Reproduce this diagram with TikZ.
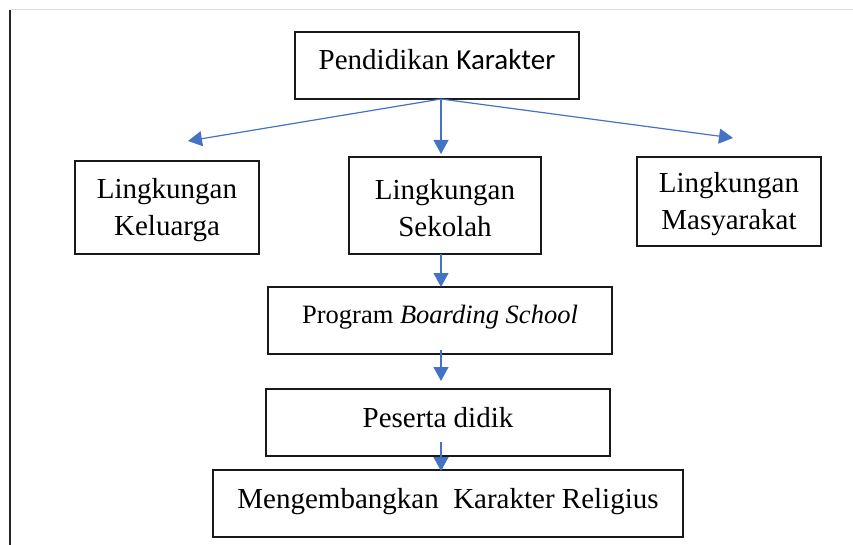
\documentclass[tikz,border=0pt]{standalone}
\usepackage{fontspec}
\setmainfont{Liberation Serif}
\newfontfamily\calfont{Carlito}
\usetikzlibrary{arrows.meta}
\definecolor{arrblue}{RGB}{68,114,196}
\newcommand{\firststrut}{\rule{0pt}{26pt}}
\tikzset{
  box/.style={draw=black!90, line width=1.1pt, rectangle, inner sep=0pt, align=center,
    font=\fontsize{29}{37}\selectfont},
  onebox/.style={box, text height=15pt, text depth=6pt},
  arr/.style={draw=arrblue, line width=1.2pt, -{Triangle[length=14pt,width=15pt]}}
}
\begin{document}
\begin{tikzpicture}[x=1pt,y=-1pt]
\useasboundingbox (0,0) rectangle (853,545);
% page frame lines
\draw[black!12, line width=1pt] (10,10) -- (853,10);
\draw[black!85, line width=1.6pt] (10,10) -- (10,545);
% boxes
\node[onebox, minimum width=284pt, minimum height=67pt] (top) at (437,65.5) {Pendidikan {\calfont Karakter}};
\node[box, minimum width=184pt, minimum height=93pt] (kel) at (167,207.5) {\firststrut Lingkungan\\Keluarga};
\node[box, minimum width=192pt, minimum height=97pt] (sek) at (445,205.5) {\firststrut Lingkungan\\Sekolah};
\node[box, minimum width=184pt, minimum height=89pt] (mas) at (729,201.5) {\firststrut Lingkungan\\Masyarakat};
\node[box, text height=14pt, text depth=9pt, minimum width=344pt, minimum height=67pt, font=\fontsize{26.5}{33}\selectfont] (prog) at (440,320.5) {Program \textit{Boarding School}};
\node[onebox, minimum width=344pt, minimum height=67pt] (pes) at (438,422.5) {Peserta didik};
\node[onebox, minimum width=470pt, minimum height=67pt] (men) at (448,503.5) {Mengembangkan\ \ Karakter Religius};
% connector points
\coordinate (o) at (441,99);
\coordinate (lt) at (188,141);
\coordinate (rt) at (733,138);
\coordinate (sd) at (441,154);
\coordinate (p1) at (441,254);
\coordinate (p2) at (441,287);
\coordinate (q1) at (441,350);
\coordinate (q2) at (441,381);
\coordinate (r1) at (441,442);
\coordinate (r2) at (441,471);
% connectors
\draw[arr] (o) -- (lt);
\draw[arr] (o) -- (sd);
\draw[arr] (o) -- (rt);
\draw[arr] (p1) -- (p2);
\draw[arr] (q1) -- (q2);
\draw[arr] (r1) -- (r2);
\end{tikzpicture}
\end{document}
